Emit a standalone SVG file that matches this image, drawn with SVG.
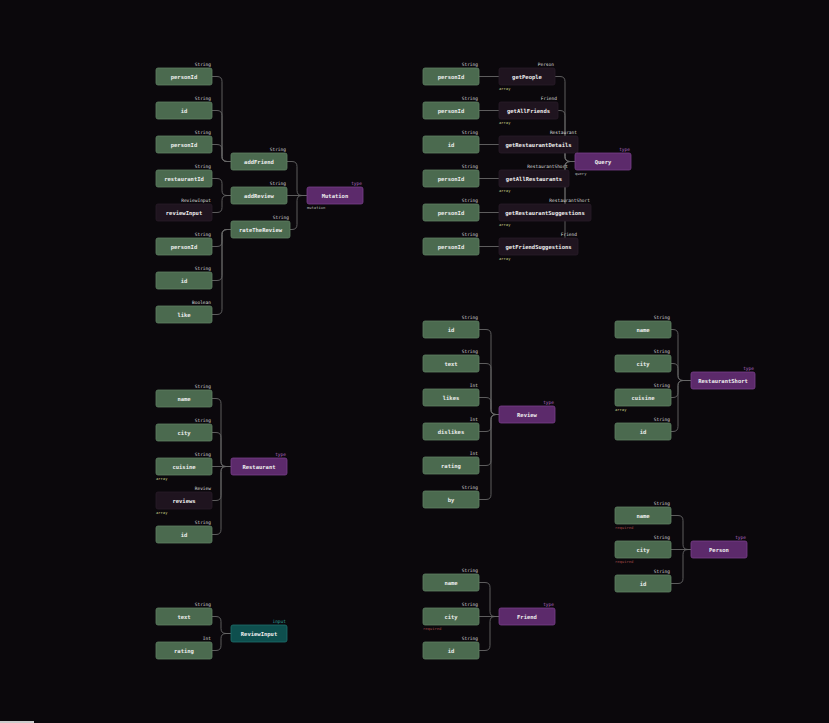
<svg xmlns="http://www.w3.org/2000/svg" width="829" height="723" viewBox="0 0 829 723">
<style>
.bg{fill:#0b080c}
.f{fill:#4b6a4f;stroke:#5f8063;stroke-width:0.8}
.d{fill:#1f141f;stroke:#2a1c29;stroke-width:0.8}
.t{fill:#5c2a6b;stroke:#7a3f8a;stroke-width:0.8}
.i{fill:#0e4f4e;stroke:#1f6f6c;stroke-width:0.8}
.l{font-family:"DejaVu Sans Mono","Liberation Mono",monospace;font-size:5.5px;font-weight:bold;fill:#eeeeee;text-anchor:middle;dominant-baseline:central}
.ty{font-family:"DejaVu Sans Mono","Liberation Mono",monospace;font-size:4.5px;fill:#dddddd;text-anchor:end}
.k{font-family:"DejaVu Sans Mono","Liberation Mono",monospace;font-size:4.5px;fill:#b468c8;text-anchor:end}
.ki{font-family:"DejaVu Sans Mono","Liberation Mono",monospace;font-size:4.5px;fill:#2fa5a0;text-anchor:end}
.ar{font-family:"DejaVu Sans Mono","Liberation Mono",monospace;font-size:3.8px;fill:#c9cc8a}
.rq{font-family:"DejaVu Sans Mono","Liberation Mono",monospace;font-size:3.8px;fill:#a34848}
.op{font-family:"DejaVu Sans Mono","Liberation Mono",monospace;font-size:3.8px;fill:#bbbbbb}
.e path{fill:none;stroke:#666;stroke-width:0.9}
</style>
<rect class="bg" x="0" y="0" width="829" height="723"/>
<rect x="0" y="721" width="34" height="2" fill="#cccccc"/>

<g id="connectors" class="e">
<path d="M212 76.5 H217 Q222 76.5 222 81.5 V156.5 Q222 161.5 227 161.5 H231"/>
<path d="M212 110.5 H217 Q222 110.5 222 115.5 V156.5 Q222 161.5 227 161.5 H231"/>
<path d="M212 144.5 H217 Q222 144.5 222 149.5 V156.5 Q222 161.5 227 161.5 H231"/>
<path d="M212 178.5 H217 Q222 178.5 222 183.5 V190.5 Q222 195.5 227 195.5 H231"/>
<path d="M212 212.5 H217 Q222 212.5 222 207.5 V200.5 Q222 195.5 227 195.5 H231"/>
<path d="M212 246.5 H217 Q222 246.5 222 241.5 V234.5 Q222 229.5 227 229.5 H231"/>
<path d="M212 280.5 H217 Q222 280.5 222 275.5 V234.5 Q222 229.5 227 229.5 H231"/>
<path d="M212 314.5 H217 Q222 314.5 222 309.5 V234.5 Q222 229.5 227 229.5 H231"/>
<path d="M287 161.5 H292 Q297 161.5 297 166.5 V190.5 Q297 195.5 302 195.5 H307"/>
<path d="M287 195.5 H307"/>
<path d="M290 229.5 H292 Q297 229.5 297 224.5 V200.5 Q297 195.5 302 195.5 H307"/>

<path d="M479 76.5 H499"/>
<path d="M479 110.5 H499"/>
<path d="M479 144.5 H499"/>
<path d="M479 178.5 H499"/>
<path d="M479 212.5 H499"/>
<path d="M479 246.5 H499"/>
<path d="M555 76.5 H560 Q565 76.5 565 81.5 V156.5 Q565 161.5 570 161.5 H575"/>
<path d="M558 110.5 H560 Q565 110.5 565 115.5 V156.5 Q565 161.5 570 161.5 H575"/>
<path d="M555 144.5 H560 Q565 144.5 565 149.5 V156.5 Q565 161.5 570 161.5 H575"/>
<path d="M555 178.5 H560 Q565 178.5 565 173.5 V166.5 Q565 161.5 570 161.5 H575"/>
<path d="M555 212.5 H560 Q565 212.5 565 207.5 V166.5 Q565 161.5 570 161.5 H575"/>
<path d="M555 246.5 H560 Q565 246.5 565 241.5 V166.5 Q565 161.5 570 161.5 H575"/>

<path d="M479 329.5 H486 Q491 329.5 491 334.5 V409.5 Q491 414.5 496 414.5 H499"/>
<path d="M479 363.5 H486 Q491 363.5 491 368.5 V409.5 Q491 414.5 496 414.5 H499"/>
<path d="M479 397.5 H486 Q491 397.5 491 402.5 V409.5 Q491 414.5 496 414.5 H499"/>
<path d="M479 431.5 H486 Q491 431.5 491 426.5 V419.5 Q491 414.5 496 414.5 H499"/>
<path d="M479 465.5 H486 Q491 465.5 491 460.5 V419.5 Q491 414.5 496 414.5 H499"/>
<path d="M479 499.5 H486 Q491 499.5 491 494.5 V419.5 Q491 414.5 496 414.5 H499"/>

<path d="M671 329.5 H673 Q678 329.5 678 334.5 V375.5 Q678 380.5 683 380.5 H691"/>
<path d="M671 363.5 H673 Q678 363.5 678 368.5 V375.5 Q678 380.5 683 380.5 H691"/>
<path d="M671 397.5 H673 Q678 397.5 678 392.5 V385.5 Q678 380.5 683 380.5 H691"/>
<path d="M671 431.5 H673 Q678 431.5 678 426.5 V385.5 Q678 380.5 683 380.5 H691"/>

<path d="M212 398.5 H216 Q221 398.5 221 403.5 V461.5 Q221 466.5 226 466.5 H231"/>
<path d="M212 432.5 H216 Q221 432.5 221 437.5 V461.5 Q221 466.5 226 466.5 H231"/>
<path d="M212 466.5 H231"/>
<path d="M212 500.5 H216 Q221 500.5 221 495.5 V471.5 Q221 466.5 226 466.5 H231"/>
<path d="M212 534.5 H216 Q221 534.5 221 529.5 V471.5 Q221 466.5 226 466.5 H231"/>

<path d="M671 515.5 H678 Q683 515.5 683 520.5 V544.5 Q683 549.5 688 549.5 H691"/>
<path d="M671 549.5 H691"/>
<path d="M671 583.5 H678 Q683 583.5 683 578.5 V554.5 Q683 549.5 688 549.5 H691"/>

<path d="M479 582.5 H485 Q490 582.5 490 587.5 V611.5 Q490 616.5 495 616.5 H499"/>
<path d="M479 616.5 H499"/>
<path d="M479 650.5 H485 Q490 650.5 490 645.5 V621.5 Q490 616.5 495 616.5 H499"/>

<path d="M212 616.5 H216 Q221 616.5 221 621.5 V628.5 Q221 633.5 226 633.5 H231"/>
<path d="M212 650.5 H216 Q221 650.5 221 645.5 V638.5 Q221 633.5 226 633.5 H231"/>
</g>

<!-- Mutation group -->
<g id="m-personId1"><rect class="f" x="156" y="68" width="56" height="17" rx="2"/><text class="l" x="184" y="76.5">personId</text><text class="ty" x="211" y="66">String</text></g>
<g id="m-id1"><rect class="f" x="156" y="102" width="56" height="17" rx="2"/><text class="l" x="184" y="110.5">id</text><text class="ty" x="211" y="100">String</text></g>
<g id="m-personId2"><rect class="f" x="156" y="136" width="56" height="17" rx="2"/><text class="l" x="184" y="144.5">personId</text><text class="ty" x="211" y="134">String</text></g>
<g id="m-restaurantId"><rect class="f" x="156" y="170" width="56" height="17" rx="2"/><text class="l" x="184" y="178.5">restaurantId</text><text class="ty" x="211" y="168">String</text></g>
<g id="m-reviewInput"><rect class="d" x="156" y="204" width="56" height="17" rx="2"/><text class="l" x="184" y="212.5">reviewInput</text><text class="ty" x="211" y="202">ReviewInput</text></g>
<g id="m-personId3"><rect class="f" x="156" y="238" width="56" height="17" rx="2"/><text class="l" x="184" y="246.5">personId</text><text class="ty" x="211" y="236">String</text></g>
<g id="m-id2"><rect class="f" x="156" y="272" width="56" height="17" rx="2"/><text class="l" x="184" y="280.5">id</text><text class="ty" x="211" y="270">String</text></g>
<g id="m-like"><rect class="f" x="156" y="306" width="56" height="17" rx="2"/><text class="l" x="184" y="314.5">like</text><text class="ty" x="211" y="304">Boolean</text></g>
<g id="addFriend"><rect class="f" x="231" y="153" width="56" height="17" rx="2"/><text class="l" x="259" y="161.5">addFriend</text><text class="ty" x="286" y="151">String</text></g>
<g id="addReview"><rect class="f" x="231" y="187" width="56" height="17" rx="2"/><text class="l" x="259" y="195.5">addReview</text><text class="ty" x="286" y="185">String</text></g>
<g id="rateTheReview"><rect class="f" x="231" y="221" width="59" height="17" rx="2"/><text class="l" x="260.5" y="229.5">rateTheReview</text><text class="ty" x="289" y="219">String</text></g>
<g id="Mutation"><rect class="t" x="307" y="187" width="56" height="17" rx="2"/><text class="l" x="335" y="195.5">Mutation</text><text class="k" x="362" y="185">type</text><text class="op" x="307" y="208.5">mutation</text></g>

<!-- Query group -->
<g id="q-personId1"><rect class="f" x="423" y="68" width="56" height="17" rx="2"/><text class="l" x="451" y="76.5">personId</text><text class="ty" x="478" y="66">String</text></g>
<g id="q-personId2"><rect class="f" x="423" y="102" width="56" height="17" rx="2"/><text class="l" x="451" y="110.5">personId</text><text class="ty" x="478" y="100">String</text></g>
<g id="q-id"><rect class="f" x="423" y="136" width="56" height="17" rx="2"/><text class="l" x="451" y="144.5">id</text><text class="ty" x="478" y="134">String</text></g>
<g id="q-personId3"><rect class="f" x="423" y="170" width="56" height="17" rx="2"/><text class="l" x="451" y="178.5">personId</text><text class="ty" x="478" y="168">String</text></g>
<g id="q-personId4"><rect class="f" x="423" y="204" width="56" height="17" rx="2"/><text class="l" x="451" y="212.5">personId</text><text class="ty" x="478" y="202">String</text></g>
<g id="q-personId5"><rect class="f" x="423" y="238" width="56" height="17" rx="2"/><text class="l" x="451" y="246.5">personId</text><text class="ty" x="478" y="236">String</text></g>
<g id="getPeople"><rect class="d" x="499" y="68" width="56" height="17" rx="2"/><text class="l" x="527" y="76.5">getPeople</text><text class="ty" x="554" y="66">Person</text><text class="ar" x="499" y="89.5">array</text></g>
<g id="getAllFriends"><rect class="d" x="499" y="102" width="59" height="17" rx="2"/><text class="l" x="528.5" y="110.5">getAllFriends</text><text class="ty" x="557" y="100">Friend</text><text class="ar" x="499" y="123.5">array</text></g>
<g id="getRestaurantDetails"><rect class="d" x="499" y="136" width="79" height="17" rx="2"/><text class="l" x="538.5" y="144.5">getRestaurantDetails</text><text class="ty" x="577" y="134">Restaurant</text></g>
<g id="getAllRestaurants"><rect class="d" x="499" y="170" width="70" height="17" rx="2"/><text class="l" x="534" y="178.5">getAllRestaurants</text><text class="ty" x="568" y="168">RestaurantShort</text><text class="ar" x="499" y="191.5">array</text></g>
<g id="getRestaurantSuggestions"><rect class="d" x="499" y="204" width="92" height="17" rx="2"/><text class="l" x="545" y="212.5">getRestaurantSuggestions</text><text class="ty" x="590" y="202">RestaurantShort</text><text class="ar" x="499" y="225.5">array</text></g>
<g id="getFriendSuggestions"><rect class="d" x="499" y="238" width="79" height="17" rx="2"/><text class="l" x="538.5" y="246.5">getFriendSuggestions</text><text class="ty" x="577" y="236">Friend</text><text class="ar" x="499" y="259.5">array</text></g>
<g id="Query"><rect class="t" x="575" y="153" width="56" height="17" rx="2"/><text class="l" x="603" y="161.5">Query</text><text class="k" x="630" y="151">type</text><text class="op" x="575" y="174.5">query</text></g>

<!-- Review group -->
<g id="r-id"><rect class="f" x="423" y="321" width="56" height="17" rx="2"/><text class="l" x="451" y="329.5">id</text><text class="ty" x="478" y="319">String</text></g>
<g id="r-text"><rect class="f" x="423" y="355" width="56" height="17" rx="2"/><text class="l" x="451" y="363.5">text</text><text class="ty" x="478" y="353">String</text></g>
<g id="r-likes"><rect class="f" x="423" y="389" width="56" height="17" rx="2"/><text class="l" x="451" y="397.5">likes</text><text class="ty" x="478" y="387">Int</text></g>
<g id="r-dislikes"><rect class="f" x="423" y="423" width="56" height="17" rx="2"/><text class="l" x="451" y="431.5">dislikes</text><text class="ty" x="478" y="421">Int</text></g>
<g id="r-rating"><rect class="f" x="423" y="457" width="56" height="17" rx="2"/><text class="l" x="451" y="465.5">rating</text><text class="ty" x="478" y="455">Int</text></g>
<g id="r-by"><rect class="f" x="423" y="491" width="56" height="17" rx="2"/><text class="l" x="451" y="499.5">by</text><text class="ty" x="478" y="489">String</text></g>
<g id="Review"><rect class="t" x="499" y="406" width="56" height="17" rx="2"/><text class="l" x="527" y="414.5">Review</text><text class="k" x="554" y="404">type</text></g>

<!-- RestaurantShort group -->
<g id="rs-name"><rect class="f" x="615" y="321" width="56" height="17" rx="2"/><text class="l" x="643" y="329.5">name</text><text class="ty" x="670" y="319">String</text></g>
<g id="rs-city"><rect class="f" x="615" y="355" width="56" height="17" rx="2"/><text class="l" x="643" y="363.5">city</text><text class="ty" x="670" y="353">String</text></g>
<g id="rs-cuisine"><rect class="f" x="615" y="389" width="56" height="17" rx="2"/><text class="l" x="643" y="397.5">cuisine</text><text class="ty" x="670" y="387">String</text><text class="ar" x="615" y="410.5">array</text></g>
<g id="rs-id"><rect class="f" x="615" y="423" width="56" height="17" rx="2"/><text class="l" x="643" y="431.5">id</text><text class="ty" x="670" y="421">String</text></g>
<g id="RestaurantShort"><rect class="t" x="691" y="372" width="64" height="17" rx="2"/><text class="l" x="723" y="380.5">RestaurantShort</text><text class="k" x="754" y="370">type</text></g>

<!-- Restaurant group -->
<g id="re-name"><rect class="f" x="156" y="390" width="56" height="17" rx="2"/><text class="l" x="184" y="398.5">name</text><text class="ty" x="211" y="388">String</text></g>
<g id="re-city"><rect class="f" x="156" y="424" width="56" height="17" rx="2"/><text class="l" x="184" y="432.5">city</text><text class="ty" x="211" y="422">String</text></g>
<g id="re-cuisine"><rect class="f" x="156" y="458" width="56" height="17" rx="2"/><text class="l" x="184" y="466.5">cuisine</text><text class="ty" x="211" y="456">String</text><text class="ar" x="156" y="479.5">array</text></g>
<g id="re-reviews"><rect class="d" x="156" y="492" width="56" height="17" rx="2"/><text class="l" x="184" y="500.5">reviews</text><text class="ty" x="211" y="490">Review</text><text class="ar" x="156" y="513.5">array</text></g>
<g id="re-id"><rect class="f" x="156" y="526" width="56" height="17" rx="2"/><text class="l" x="184" y="534.5">id</text><text class="ty" x="211" y="524">String</text></g>
<g id="Restaurant"><rect class="t" x="231" y="458" width="56" height="17" rx="2"/><text class="l" x="259" y="466.5">Restaurant</text><text class="k" x="286" y="456">type</text></g>

<!-- Person group -->
<g id="p-name"><rect class="f" x="615" y="507" width="56" height="17" rx="2"/><text class="l" x="643" y="515.5">name</text><text class="ty" x="670" y="505">String</text><text class="rq" x="615" y="528.5">required</text></g>
<g id="p-city"><rect class="f" x="615" y="541" width="56" height="17" rx="2"/><text class="l" x="643" y="549.5">city</text><text class="ty" x="670" y="539">String</text><text class="rq" x="615" y="562.5">required</text></g>
<g id="p-id"><rect class="f" x="615" y="575" width="56" height="17" rx="2"/><text class="l" x="643" y="583.5">id</text><text class="ty" x="670" y="573">String</text></g>
<g id="Person"><rect class="t" x="691" y="541" width="56" height="17" rx="2"/><text class="l" x="719" y="549.5">Person</text><text class="k" x="746" y="539">type</text></g>

<!-- Friend group -->
<g id="fr-name"><rect class="f" x="423" y="574" width="56" height="17" rx="2"/><text class="l" x="451" y="582.5">name</text><text class="ty" x="478" y="572">String</text></g>
<g id="fr-city"><rect class="f" x="423" y="608" width="56" height="17" rx="2"/><text class="l" x="451" y="616.5">city</text><text class="ty" x="478" y="606">String</text><text class="rq" x="423" y="629.5">required</text></g>
<g id="fr-id"><rect class="f" x="423" y="642" width="56" height="17" rx="2"/><text class="l" x="451" y="650.5">id</text><text class="ty" x="478" y="640">String</text></g>
<g id="Friend"><rect class="t" x="499" y="608" width="56" height="17" rx="2"/><text class="l" x="527" y="616.5">Friend</text><text class="k" x="554" y="606">type</text></g>

<!-- ReviewInput group -->
<g id="ri-text"><rect class="f" x="156" y="608" width="56" height="17" rx="2"/><text class="l" x="184" y="616.5">text</text><text class="ty" x="211" y="606">String</text></g>
<g id="ri-rating"><rect class="f" x="156" y="642" width="56" height="17" rx="2"/><text class="l" x="184" y="650.5">rating</text><text class="ty" x="211" y="640">Int</text></g>
<g id="ReviewInput"><rect class="i" x="231" y="625" width="56" height="17" rx="2"/><text class="l" x="259" y="633.5">ReviewInput</text><text class="ki" x="286" y="623">input</text></g>
</svg>
